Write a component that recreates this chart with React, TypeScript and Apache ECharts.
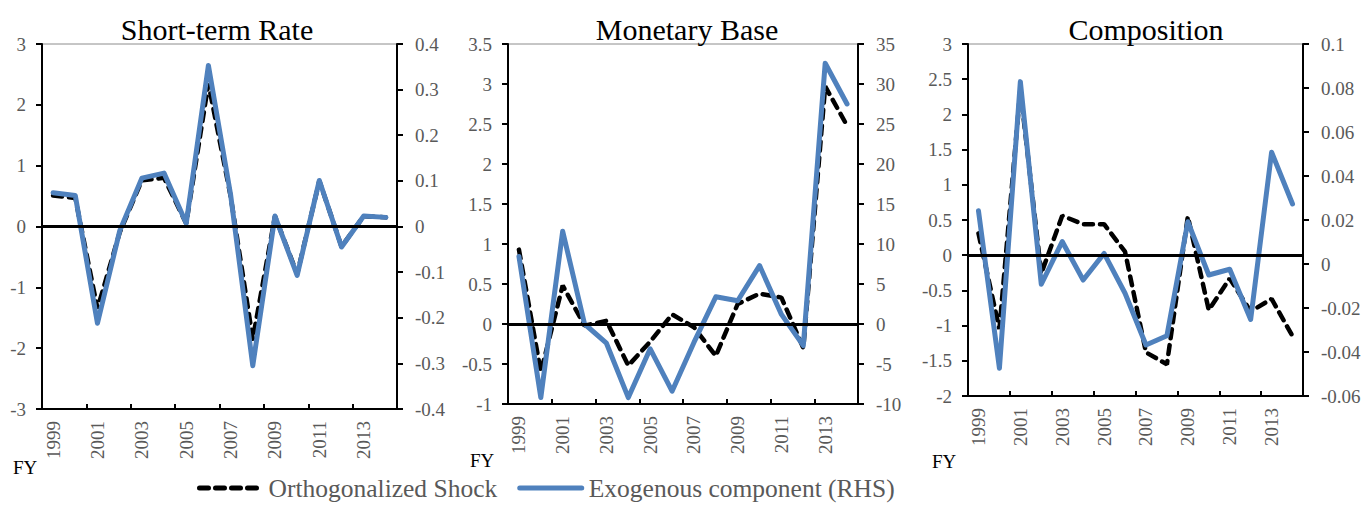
import React, { useEffect, useRef } from "react";
import * as echarts from "echarts";

const years = ["1999","2000","2001","2002","2003","2004","2005","2006","2007","2008","2009","2010","2011","2012","2013","2014"];

const titles = ["Short-term Rate", "Monetary Base", "Composition"];

// Orthogonalized Shock (LHS)
const strShock = [0.51, 0.47, -1.35, -0.1, 0.76, 0.8, 0.05, 2.35, 0.5, -1.85, 0.17, -0.78, 0.75, -0.33, 0.17, 0.15];
const mbShock = [0.93, -0.6, 0.48, -0.02, 0.04, -0.52, -0.22, 0.12, -0.04, -0.4, 0.25, 0.38, 0.33, -0.3, 2.97, 2.48];
const compShock = [0.31, -1.05, 2.35, -0.26, 0.56, 0.44, 0.44, 0.05, -1.38, -1.55, 0.55, -0.78, -0.33, -0.8, -0.62, -1.15];

// Exogenous component (RHS)
const strExo = [0.074, 0.068, -0.212, -0.01, 0.106, 0.117, 0.007, 0.353, 0.07, -0.305, 0.023, -0.107, 0.101, -0.045, 0.023, 0.02];
const mbExo = [8.45, -9.2, 11.6, 0, -2.4, -9.2, -3.1, -8.4, -2.3, 3.4, 2.9, 7.3, 1.2, -2.7, 32.6, 27.5];
const compExo = [0.0242, -0.0474, 0.0829, -0.0092, 0.0102, -0.0073, 0.0048, -0.0133, -0.0368, -0.0326, 0.0192, -0.005, -0.0024, -0.0252, 0.0508, 0.0273];

const shockSets = [strShock, mbShock, compShock];
const exoSets = [strExo, mbExo, compExo];

const leftRanges = [
  { min: -3, max: 3, interval: 1 },
  { min: -1, max: 3.5, interval: 0.5 },
  { min: -2, max: 3, interval: 0.5 },
];
const rightRanges = [
  { min: -0.4, max: 0.4, interval: 0.1 },
  { min: -10, max: 35, interval: 5 },
  { min: -0.06, max: 0.1, interval: 0.02 },
];

const SHOCK = "Orthogonalized Shock";
const EXO = "Exogenous component (RHS)";

const FONT = "Liberation Serif";
const GREY = "#595959";
const BLUE = "#4F81BD";

const grids = [
  { left: 42, top: 44, width: 355, height: 365 },
  { left: 508, top: 44, width: 350, height: 360 },
  { left: 968, top: 44, width: 335, height: 352 },
];
const titleCenters = [212, 682, 1141];
const fyPos = [
  { x: 13, y: 458 },
  { x: 470, y: 451 },
  { x: 932, y: 452 },
];

export default function App() {
  const ref = useRef<HTMLDivElement>(null);
  useEffect(() => {
    document.body.style.margin = "0";
    if (!ref.current) return;
    const chart = echarts.init(ref.current, null, { renderer: "svg" });

    const yAxisCommon = (pos: "left" | "right") => ({
      type: "value",
      position: pos,
      axisLine: { show: true, lineStyle: { color: "#000", width: 2 } },
      axisTick: { show: true, inside: false, length: 6, lineStyle: { color: "#000", width: 2 } },
      splitLine: { show: false },
      axisLabel: { color: GREY, fontFamily: FONT, fontSize: 19, margin: pos === "left" ? 16 : 18 },
    });

    const xAxes = grids.map((_, i) => ({
      type: "category",
      gridIndex: i,
      data: years,
      boundaryGap: true,
      position: "bottom",
      axisLine: { show: true, onZero: false, lineStyle: { color: "#000", width: 2 } },
      axisTick: { show: true, inside: true, interval: 1, length: 5, lineStyle: { color: "#000", width: 2 } },
      axisLabel: { interval: 1, rotate: 90, color: GREY, fontFamily: FONT, fontSize: 19, margin: 12 },
    }));

    const yAxes: any[] = [];
    grids.forEach((_, i) => {
      yAxes.push({ ...yAxisCommon("left"), gridIndex: i, ...leftRanges[i] });
      yAxes.push({ ...yAxisCommon("right"), gridIndex: i, ...rightRanges[i] });
    });

    const series: any[] = [];
    grids.forEach((_, i) => {
      series.push({
        name: SHOCK,
        type: "line",
        xAxisIndex: i,
        yAxisIndex: 2 * i,
        data: shockSets[i],
        symbol: "none",
        lineStyle: { color: "#000", width: 4.5, type: [9, 7], cap: "round" },
        itemStyle: { color: "#000" },
        markLine: {
          silent: true,
          symbol: "none",
          label: { show: false },
          lineStyle: { color: "#000", width: 3, type: "solid" },
          data: [{ yAxis: 0 }],
        },
        z: 2,
      });
      series.push({
        name: EXO,
        type: "line",
        xAxisIndex: i,
        yAxisIndex: 2 * i + 1,
        data: exoSets[i],
        symbol: "none",
        lineStyle: { color: BLUE, width: 5, cap: "round", join: "round" },
        itemStyle: { color: BLUE },
        z: 3,
      });
    });

    chart.setOption({
      animation: false,
      backgroundColor: "#fff",
      title: titles.map((t, i) => ({
        text: t,
        left: titleCenters[i],
        top: 9,
        textAlign: "center",
        textStyle: { fontFamily: FONT, fontSize: 30, fontWeight: "normal", color: "#000" },
      })),
      grid: grids.map((g) => ({ ...g, show: true, borderColor: "#8c8c8c", borderWidth: 1, backgroundColor: "transparent" })),
      xAxis: xAxes,
      yAxis: yAxes,
      legend: {
        top: 475,
        left: 197,
        padding: 0,
        itemWidth: 62,
        itemHeight: 14,
        itemGap: 20,
        data: [SHOCK, EXO],
        itemStyle: { opacity: 0 },
        lineStyle: { width: 5, cap: "round" },
        textStyle: { fontFamily: FONT, fontSize: 25.5, lineHeight: 26, color: GREY, padding: [0, 0, 0, 2] },
      },
      graphic: fyPos.map((p) => ({
        type: "text",
        left: p.x,
        top: p.y,
        style: { text: "FY", font: `19px '${FONT}'`, fill: "#000" },
      })),
      series,
    });
    return () => chart.dispose();
  }, []);
  return <div ref={ref} style={{ width: 1364, height: 506 }} />;
}
